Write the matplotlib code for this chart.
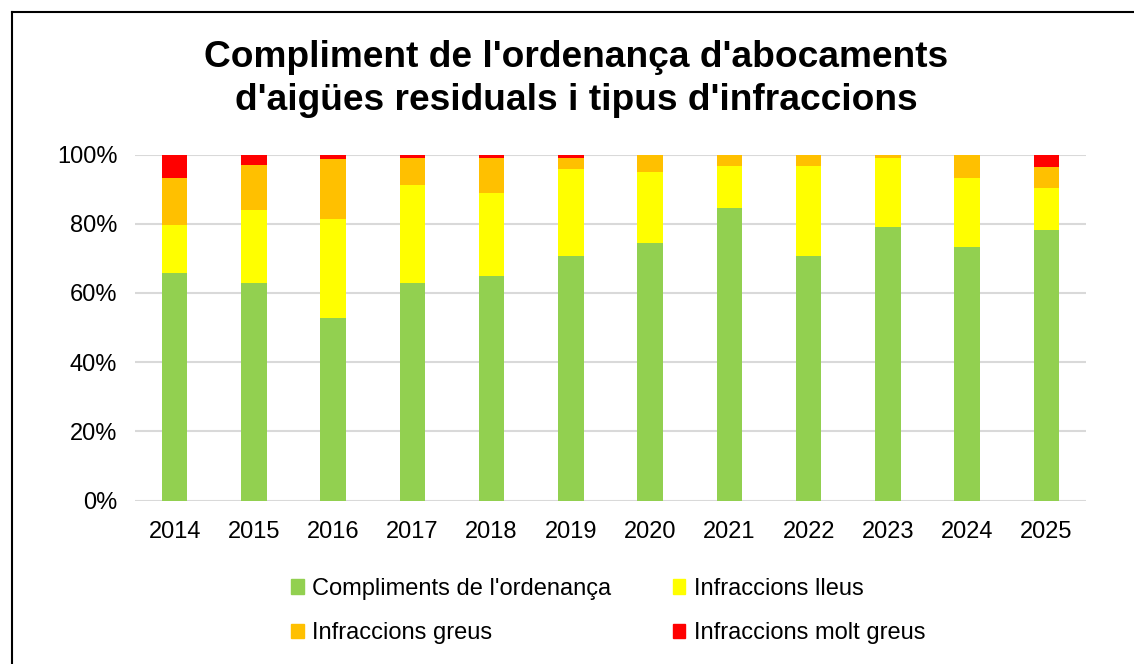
import matplotlib
matplotlib.use("Agg")
import matplotlib.pyplot as plt
from matplotlib.patches import Rectangle
from matplotlib.lines import Line2D
import numpy as np

plt.rcParams['font.family'] = ['Liberation Sans', 'DejaVu Sans']

years = ['2014', '2015', '2016', '2017', '2018', '2019', '2020', '2021', '2022', '2023', '2024', '2025']
compliments = [65.8, 62.9, 52.7, 62.9, 65.0, 70.8, 74.5, 84.6, 70.8, 79.1, 73.4, 78.2]
lleus = [13.8, 21.1, 28.7, 28.3, 24.0, 24.9, 20.5, 12.1, 26.0, 20.0, 19.9, 12.2]
greus = [13.7, 13.0, 17.4, 7.7, 9.9, 3.4, 5.0, 3.3, 3.2, 0.9, 6.7, 6.1]
molt_greus = [6.7, 3.0, 1.2, 1.1, 1.1, 0.9, 0.0, 0.0, 0.0, 0.0, 0.0, 3.5]

series = [
    ("Compliments de l'ordenança", compliments, '#92d050'),
    ("Infraccions lleus", lleus, '#ffff00'),
    ("Infraccions greus", greus, '#ffc000'),
    ("Infraccions molt greus", molt_greus, '#ff0000'),
]

fig = plt.figure(figsize=(11.34, 6.64), dpi=100)
ax = fig.add_axes([135/1134, 1 - 500.5/664, (1086-135)/1134, (500.5-154.5)/664])

x = np.arange(len(years))
bottom = np.zeros(len(years))
for label, vals, col in series:
    v = np.array(vals) / 100.0
    ax.bar(x, v, width=0.32, bottom=bottom, color=col, label=label, zorder=3)
    bottom += v

ax.set_xlim(-0.5, len(years) - 0.5)
ax.set_ylim(0, 1.0)
ax.set_yticks(np.arange(0, 1.01, 0.2))
ax.set_yticklabels([f"{int(round(t*100))}%" for t in np.arange(0, 1.01, 0.2)], fontsize=17)
ax.set_xticks(x)
ax.set_xticklabels(years, fontsize=17)
ax.tick_params(axis='y', length=0, pad=12.7)
ax.tick_params(axis='x', length=0, pad=14.5)
for s in ax.spines.values():
    s.set_visible(False)
ax.grid(axis='y', color='#d9d9d9', linewidth=1.5, zorder=0)
ax.set_axisbelow(True)

fig.text(576/1134, 1 - 79/664, "Compliment de l'ordenança d'abocaments\nd'aigües residuals i tipus d'infraccions",
         ha='center', va='center', fontsize=26.7, fontweight='bold', linespacing=1.3)

handles = [Rectangle((0, 0), 1, 1, color=c) for _, _, c in series]
labels = [l for l, _, _ in series]
order = [0, 2, 1, 3]
leg = fig.legend([handles[i] for i in order], [labels[i] for i in order], ncol=2, loc='center',
                 bbox_to_anchor=(608/1134, 1 - 611/664),
                 frameon=False, fontsize=17, handlelength=0.55, handleheight=0.55, handletextpad=0.35,
                 columnspacing=2.6, labelspacing=0.95)

# chart border (cropped on right/bottom)
fig.add_artist(Line2D([12/1134, 12/1134], [0, 1 - 12/664], color='black', linewidth=1.5, transform=fig.transFigure))
fig.add_artist(Line2D([12/1134, 1], [1 - 12/664, 1 - 12/664], color='black', linewidth=1.5, transform=fig.transFigure))

fig.savefig('out.png', dpi=100, facecolor='white')
